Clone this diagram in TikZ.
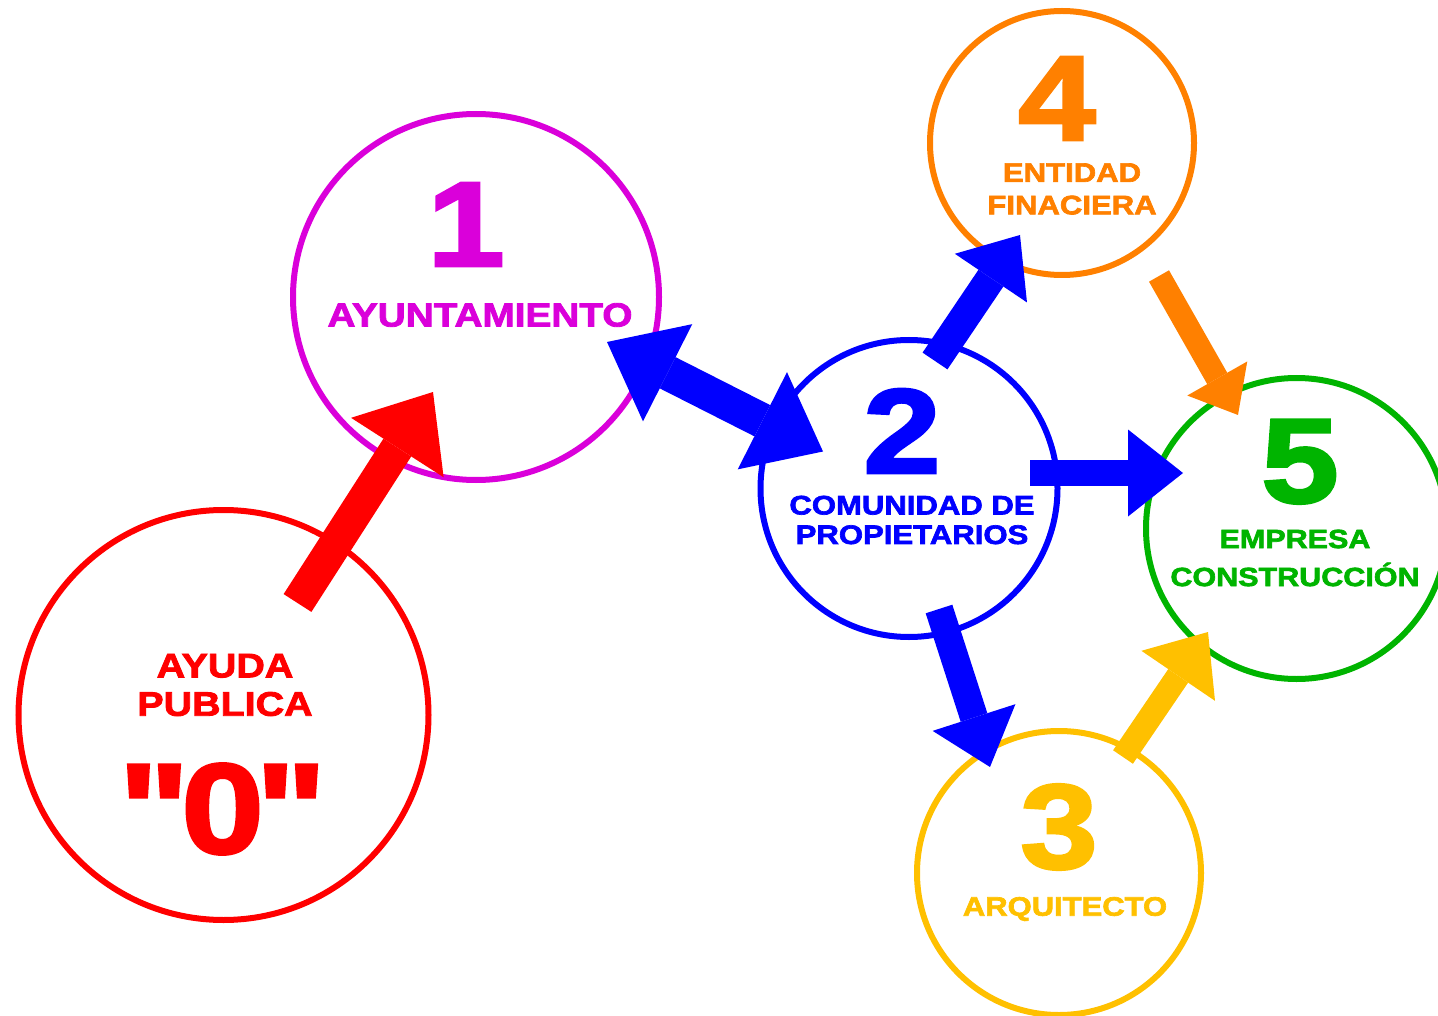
\documentclass[tikz,border=0pt]{standalone}
\usepackage{fontspec}
\usetikzlibrary{arrows.meta,calc}
\newfontfamily\heavy{Liberation Sans Bold}[FakeStretch=1.16,FakeBold=2.5]
\definecolor{ayudared}{RGB}{255,0,0}
\definecolor{ayunmag}{RGB}{218,0,218}
\definecolor{comblue}{RGB}{0,0,255}
\definecolor{arqyellow}{RGB}{255,192,0}
\definecolor{finorange}{RGB}{255,128,0}
\definecolor{empgreen}{RGB}{0,180,0}
\tikzset
{
    ring/.style = {circle, draw, line width=6pt, minimum size=#1, inner sep=0pt},
    bignum/.style = {inner sep=0pt, font=\heavy\fontsize{120}{120}\selectfont},
    caption/.style = {inner sep=0pt, align=center},
    fatarrow/.style n args = {3}{line width=#1, -{Triangle[length=#2, width=#3, line width=0pt]}},
    fatboth/.style n args = {3}{line width=#1, {Triangle[length=#2, width=#3, line width=0pt]}-{Triangle[length=#2, width=#3, line width=0pt]}}
}
\begin{document}
\begin{tikzpicture}[x=1pt, y=-1pt]
	\useasboundingbox (0,0) rectangle (1438,1016);
	% circles
	\node[ring=410pt, draw=ayudared] (c0) at (223.5,715) {};
	\node[ring=366pt, draw=ayunmag] (c1) at (476,297) {};
	\node[ring=297pt, draw=comblue] (c2) at (909,488.5) {};
	\node[ring=284pt, draw=arqyellow] (c3) at (1059,873) {};
	\node[ring=264pt, draw=finorange] (c4) at (1062,143) {};
	\node[ring=301pt, draw=empgreen] (c5) at (1296.5,528.5) {};
	% texts
	\node[caption, text=ayudared, font=\heavy\fontsize{34}{38.4}\selectfont] (l0) at (225,685) {AYUDA\\PUBLICA};
	\node[bignum, text=ayudared, font=\heavy\fontsize{128}{128}\selectfont] (n0) at (222.5,809) {"\kern-8pt0\kern-8pt"};
	\node[bignum, text=ayunmag] (n1) at (466,224.5) {1};
	\node[caption, text=ayunmag, font=\heavy\fontsize{33.4}{33.4}\selectfont] (l1) at (480,315) {AYUNTAMIENTO};
	\node[bignum, text=comblue] (n2) at (902,431) {2};
	\node[caption, text=comblue, font=\heavy\fontsize{26.8}{29.5}\selectfont] (l2) at (912,520) {COMUNIDAD DE\\PROPIETARIOS};
	\node[bignum, text=arqyellow] (n3) at (1059,827) {3};
	\node[caption, text=arqyellow, font=\heavy\fontsize{26.7}{26.7}\selectfont] (l3) at (1065,909) {ARQUITECTO};
	\node[bignum, text=finorange] (n4) at (1057,98.5) {4};
	\node[caption, text=finorange, font=\heavy\fontsize{26.8}{32.5}\selectfont] (l4) at (1072,189) {ENTIDAD\\FINACIERA};
	\node[bignum, text=empgreen] (n5) at (1300,461.7) {5};
	\node[caption, text=empgreen, font=\heavy\fontsize{26.3}{38}\selectfont] (l5) at (1295,558) {EMPRESA\\CONSTRUCCIÓN};
	% arrow ends
	\coordinate (a0s) at ($(c0)+(74,-112)$);
	\coordinate (a0e) at ($(c1)+(-43,95)$);
	\coordinate (a1s) at ($(c1)+(131,45)$);
	\coordinate (a1e) at ($(c2)+(-86,-37)$);
	\coordinate (a2s) at ($(c2)+(26,-127.5)$);
	\coordinate (a2e) at ($(c4)+(-42,92)$);
	\coordinate (a3s) at ($(c2)+(121,-15.5)$);
	\coordinate (a3e) at ($(c5)+(-113.5,-55.5)$);
	\coordinate (a4s) at ($(c2)+(30,120.5)$);
	\coordinate (a4e) at ($(c3)+(-69,-106)$);
	\coordinate (a5s) at ($(c4)+(97,133)$);
	\coordinate (a5e) at ($(c5)+(-58.5,-113.5)$);
	\coordinate (a6s) at ($(c3)+(64,-116)$);
	\coordinate (a6e) at ($(c5)+(-88.5,103.5)$);
	% arrows
	\draw[ayudared, fatarrow={33pt}{66pt}{110pt}] (a0s) -- (a0e);
	\draw[comblue, fatboth={35pt}{68pt}{109pt}] (a1s) -- (a1e);
	\draw[comblue, fatarrow={30pt}{52pt}{87pt}] (a2s) -- (a2e);
	\draw[comblue, fatarrow={26pt}{55pt}{87pt}] (a3s) -- (a3e);
	\draw[comblue, fatarrow={28pt}{52pt}{87pt}] (a4s) -- (a4e);
	\draw[finorange, fatarrow={23pt}{42pt}{69pt}] (a5s) -- (a5e);
	\draw[arqyellow, fatarrow={24pt}{53pt}{89pt}] (a6s) -- (a6e);
\end{tikzpicture}
\end{document}
